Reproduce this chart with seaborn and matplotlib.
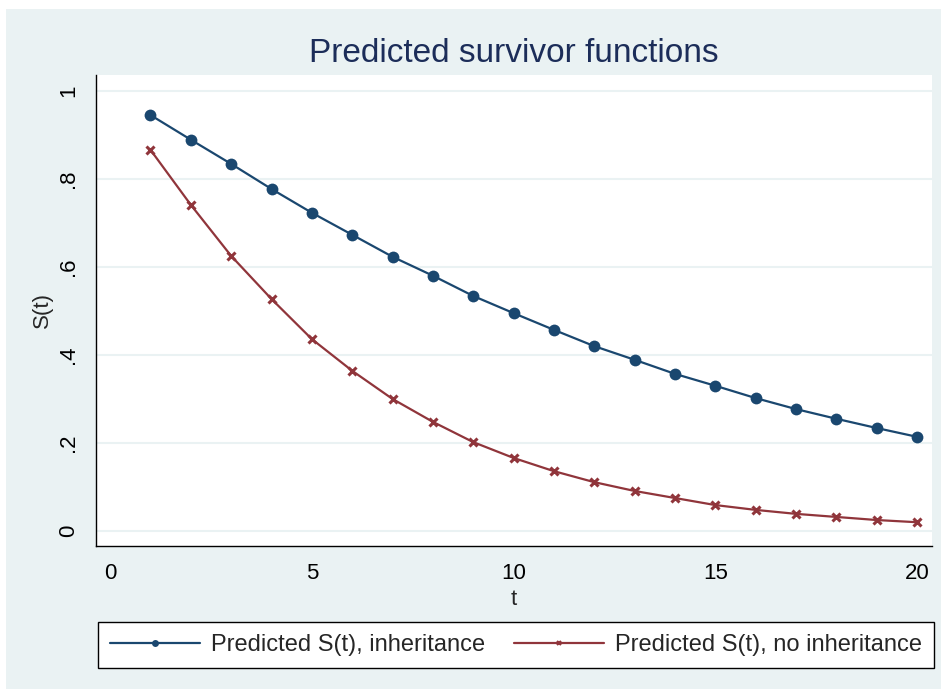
import numpy as np
import matplotlib
matplotlib.use("Agg")
import matplotlib.pyplot as plt
import seaborn as sns
import pandas as pd
from matplotlib.patches import Rectangle
from matplotlib.lines import Line2D

t = list(range(1, 21))
s_inherit = [0.945, 0.889, 0.834, 0.777, 0.723, 0.673, 0.623, 0.580, 0.534, 0.495,
             0.457, 0.420, 0.389, 0.357, 0.330, 0.302, 0.277, 0.255, 0.234, 0.214]
s_no_inherit = [0.866, 0.741, 0.625, 0.527, 0.436, 0.364, 0.300, 0.248, 0.202, 0.166,
                0.136, 0.111, 0.091, 0.075, 0.059, 0.048, 0.039, 0.032, 0.025, 0.020]
labels = ["Predicted S(t), inheritance", "Predicted S(t), no inheritance"]
yticks = [0, 0.2, 0.4, 0.6, 0.8, 1.0]
ytick_labels = ["0", ".2", ".4", ".6", ".8", "1"]
xticks = [0, 5, 10, 15, 20]

navy = "#1A476F"
maroon = "#90353B"
bgcol = "#EAF2F3"

df = pd.DataFrame({
    "t": t + t,
    "S": s_inherit + s_no_inherit,
    "series": [labels[0]] * len(t) + [labels[1]] * len(t),
})

sns.set_style("white")
plt.rcParams['font.family'] = ['Liberation Sans', 'DejaVu Sans']

fig = plt.figure(figsize=(9.47, 6.95), dpi=100)
fig.patch.set_facecolor("white")
fig.patches.append(Rectangle((6/947, 6/695), 935/947, 680/695, transform=fig.transFigure,
                             facecolor=bgcol, edgecolor="none", zorder=-10))

ax = fig.add_axes([96/947, 149/695, 836/947, 471/695])
ax.set_facecolor("white")

sns.lineplot(data=df, x="t", y="S", hue="series", palette=[navy, maroon],
             linewidth=1.6, ax=ax, legend=False)
# Stata style markers: filled circle / x
for line, col, mk, ms, mew in zip(ax.lines, [navy, maroon], ["o", "x"], [8.5, 5.5], [0, 2.2]):
    line.set_marker(mk)
    line.set_markersize(ms)
    line.set_markeredgewidth(mew)
    line.set_markerfacecolor(col)
    line.set_markeredgecolor(col)

ax.set_xlim(-0.35, 20.37)
ax.set_ylim(-0.034, 1.036)
ax.set_yticks(yticks)
ax.set_yticklabels(ytick_labels, rotation=90, va="center")
ax.set_xticks(xticks)
ax.grid(axis="y", color=bgcol, linewidth=1.5)
ax.grid(axis="x", visible=False)
for side in ["top", "right"]:
    ax.spines[side].set_visible(False)
for side in ["left", "bottom"]:
    ax.spines[side].set_color("black")
    ax.spines[side].set_linewidth(1.0)
ax.tick_params(axis="both", direction="out", length=7, width=1, color="black",
               labelsize=16, labelcolor="black", pad=5)
ax.set_xlabel("t", fontsize=16, labelpad=4)
ax.set_ylabel("S(t)", fontsize=16, labelpad=4)
ax.set_title("Predicted survivor functions", fontsize=24, color="#1C2D59", pad=9)

handles = [Line2D([], [], color=navy, linewidth=1.6, marker="o", markersize=5, markeredgewidth=0),
           Line2D([], [], color=maroon, linewidth=1.6, marker="x", markersize=3.5, markeredgewidth=1.5)]
leg = fig.legend(handles, labels, loc="lower left", ncol=2,
                 bbox_to_anchor=(98/947, 27/695),
                 fontsize=17, frameon=True, fancybox=False, framealpha=1,
                 handlelength=3.8, handletextpad=0.5, columnspacing=1.2,
                 numpoints=1, borderaxespad=0, borderpad=0.5)
leg.get_frame().set_edgecolor("black")
leg.get_frame().set_linewidth(1.0)
leg.get_frame().set_facecolor("white")

fig.savefig("out.png", dpi=100, facecolor=fig.get_facecolor())
